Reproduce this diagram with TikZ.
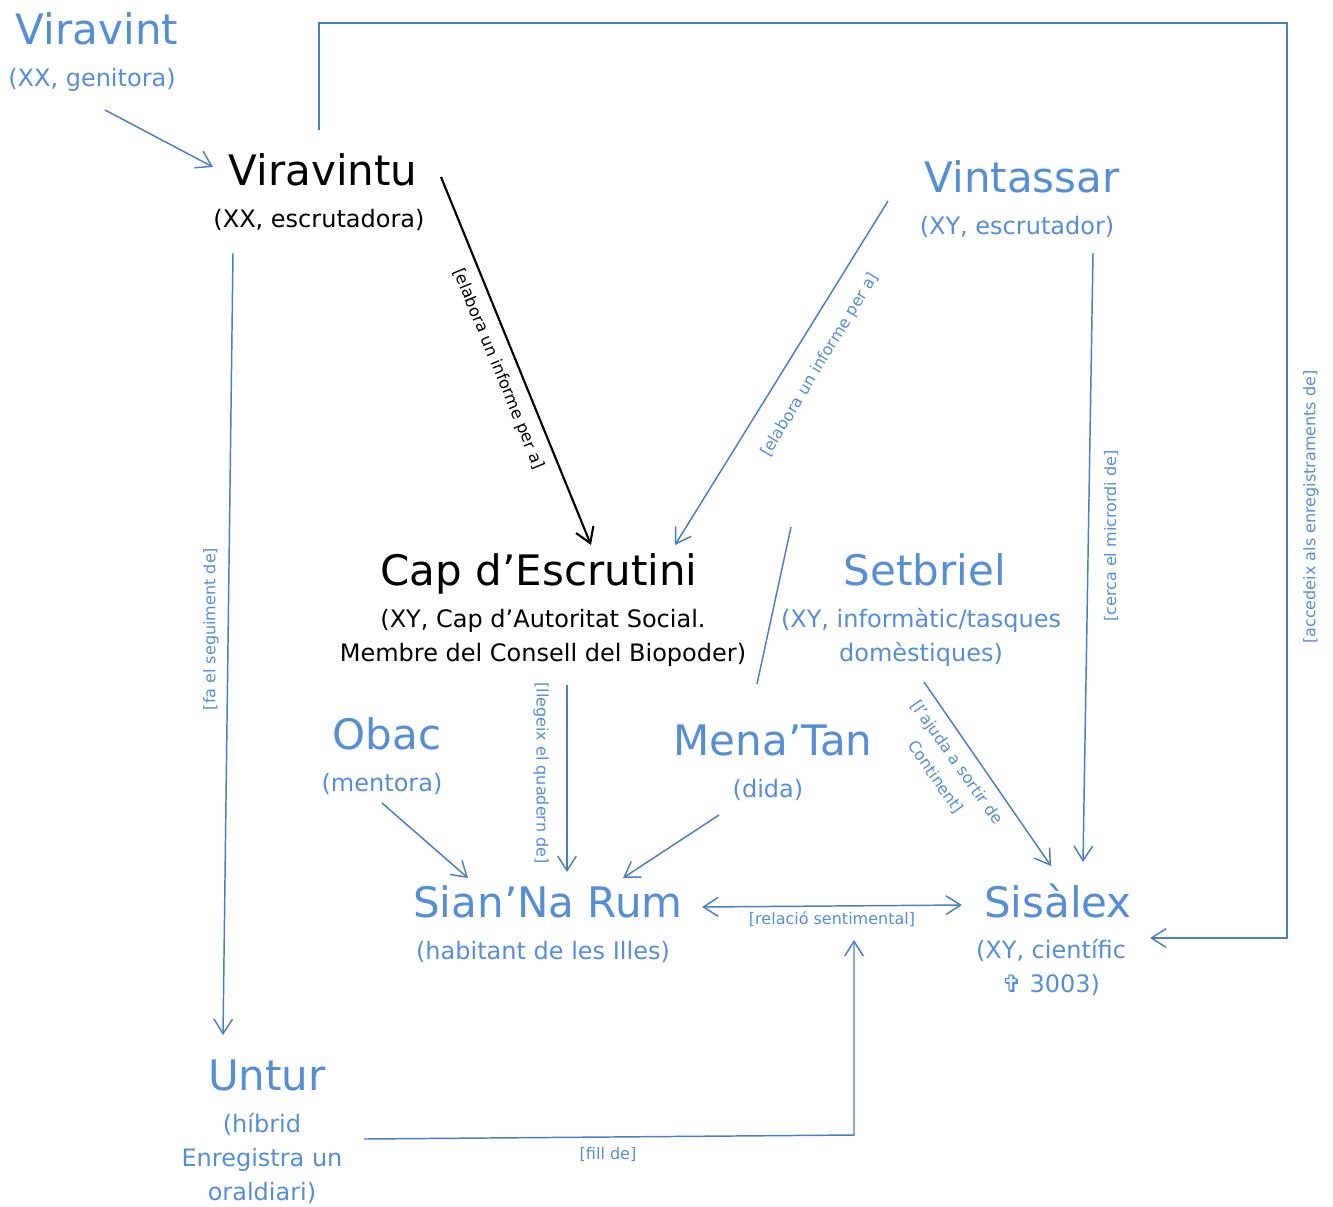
\documentclass[tikz,border=0pt]{standalone}
\usepackage{fontspec}
\setmainfont{DejaVu Sans}
\usetikzlibrary{arrows.meta}
\definecolor{bluet}{RGB}{85,142,213}
\definecolor{bluel}{RGB}{74,126,190}
\begin{document}
\begin{tikzpicture}[x=0.75pt,y=-0.75pt,
  pname/.style={inner sep=0pt, anchor=base, font=\fontsize{31.5}{36}\selectfont, text=bluet},
  psub/.style={inner sep=0pt, anchor=base, align=center, font=\fontsize{18}{25.5}\selectfont, text=bluet},
  elabel/.style={inner sep=0pt, align=center, font=\fontsize{12}{17}\selectfont, text=bluet},
  conn/.style={draw=bluel, line width=1.1pt},
  arr/.style={conn, -{Straight Barb[length=11pt,width=14pt]}},
  darr/.style={conn, {Straight Barb[length=11pt,width=14pt]}-{Straight Barb[length=11pt,width=14pt]}},
  blackarr/.style={draw=black, line width=1.6pt, -{Straight Barb[length=11pt,width=14pt]}}
]
\useasboundingbox (0,0) rectangle (1333,1206);

% names (multi-line subtitles: base = baseline of last line)
\node[pname] (viravint) at (97,45) {Viravint};
\node[psub] (viravint-s) at (92,86) {(XX, genitora)};
\node[pname, text=black] (viravintu) at (323,185) {Viravintu};
\node[psub, text=black] (viravintu-s) at (319,227) {(XX, escrutadora)};
\node[pname] (vintassar) at (1022,192) {Vintassar};
\node[psub] (vintassar-s) at (1017,234) {(XY, escrutador)};
\node[pname, text=black] (cap) at (539,585) {Cap d’Escrutini};
\node[psub, text=black] (cap-s) at (543,661) {(XY, Cap d’Autoritat Social.\\Membre del Consell del Biopoder)};
\node[pname] (setbriel) at (925,585) {Setbriel};
\node[psub] (setbriel-s) at (921,661) {(XY, informàtic/tasques\\domèstiques)};
\node[pname] (obac) at (387,749) {Obac};
\node[psub] (obac-s) at (382,791) {(mentora)};
\node[pname] (menatan) at (773,755) {Mena’Tan};
\node[psub] (menatan-s) at (768,797) {(dida)};
\node[pname] (sianna) at (548,917) {Sian’Na Rum};
\node[psub] (sianna-s) at (543,959) {(habitant de les Illes)};
\node[pname] (sisalex) at (1058,917) {Sisàlex};
\node[psub] (sisalex-s) at (1051,992) {(XY, científic\\✞ 3003)};
\node[pname] (untur) at (267,1090) {Untur};
\node[psub] (untur-s) at (262,1200) {(híbrid\\Enregistra un\\oraldiari)};

% connector end points
\coordinate (vv-out) at (105,110);
\coordinate (vu-in) at (213,167);
\coordinate (vu-top) at (319,130);
\coordinate (c1) at (319,23);
\coordinate (c2) at (1287,23);
\coordinate (c3) at (1287,938);
\coordinate (sx-right) at (1150,938);
\coordinate (vu-ne) at (441,177);
\coordinate (cap-in1) at (591,545);
\coordinate (vs-out) at (888,201);
\coordinate (cap-in2) at (675,545);
\coordinate (mt-top) at (757,684);
\coordinate (mt-end) at (791,527);
\coordinate (vs-down) at (1093,253);
\coordinate (sx-in1) at (1083,862);
\coordinate (vu-down) at (233,253);
\coordinate (un-in) at (223,1035);
\coordinate (cap-down) at (567,685);
\coordinate (sn-in1) at (567,872);
\coordinate (ob-out) at (382,803);
\coordinate (sn-in2) at (468,878);
\coordinate (mt-out) at (719,815);
\coordinate (sn-in3) at (623,878);
\coordinate (sb-out) at (924,682);
\coordinate (sx-in2) at (1051,866);
\coordinate (sn-right) at (702,907);
\coordinate (sx-left) at (962,905);
\coordinate (un-right) at (364,1139);
\coordinate (c4) at (854,1135);
\coordinate (rel-in) at (854,940);

% connectors
\draw[arr] (vv-out) -- (vu-in);
\draw[arr] (vu-top) -- (c1) -- (c2) -- (c3) -- (sx-right);
\draw[blackarr] (vu-ne) -- (cap-in1);
\draw[arr] (vs-out) -- (cap-in2);
\draw[conn] (mt-top) -- (mt-end);
\draw[arr] (vs-down) -- (sx-in1);
\draw[arr] (vu-down) -- (un-in);
\draw[arr] (cap-down) -- (sn-in1);
\draw[arr] (ob-out) -- (sn-in2);
\draw[arr] (mt-out) -- (sn-in3);
\draw[arr] (sb-out) -- (sx-in2);
\draw[darr] (sn-right) -- (sx-left);
\draw[arr] (un-right) -- (c4) -- (rel-in);

% edge labels
\node[elabel, rotate=90] (l-acc) at (1311,507) {[accedeix als enregistraments de]};
\node[elabel, text=black, font=\fontsize{12.2}{17}\selectfont, rotate=-67.8] (l-elab1) at (498,369) {[elabora un informe per a]};
\node[elabel, rotate=58.9] (l-elab2) at (820,365) {[elabora un informe per a]};
\node[elabel, rotate=90] (l-cerca) at (1111,536) {[cerca el micrordi de]};
\node[elabel, rotate=90] (l-fa) at (211,629) {[fa el seguiment de]};
\node[elabel, rotate=-90] (l-llegeix) at (541,773) {[llegeix el quadern de]};
\node[elabel, font=\fontsize{12}{19.5}\selectfont, rotate=-55] (l-ajuda) at (946,770) {[l’ajuda a sortir de\\Continent]};
\node[elabel] (l-rel) at (832,919) {[relació sentimental]};
\node[elabel] (l-fill) at (608,1154) {[fill de]};
\end{tikzpicture}
\end{document}
